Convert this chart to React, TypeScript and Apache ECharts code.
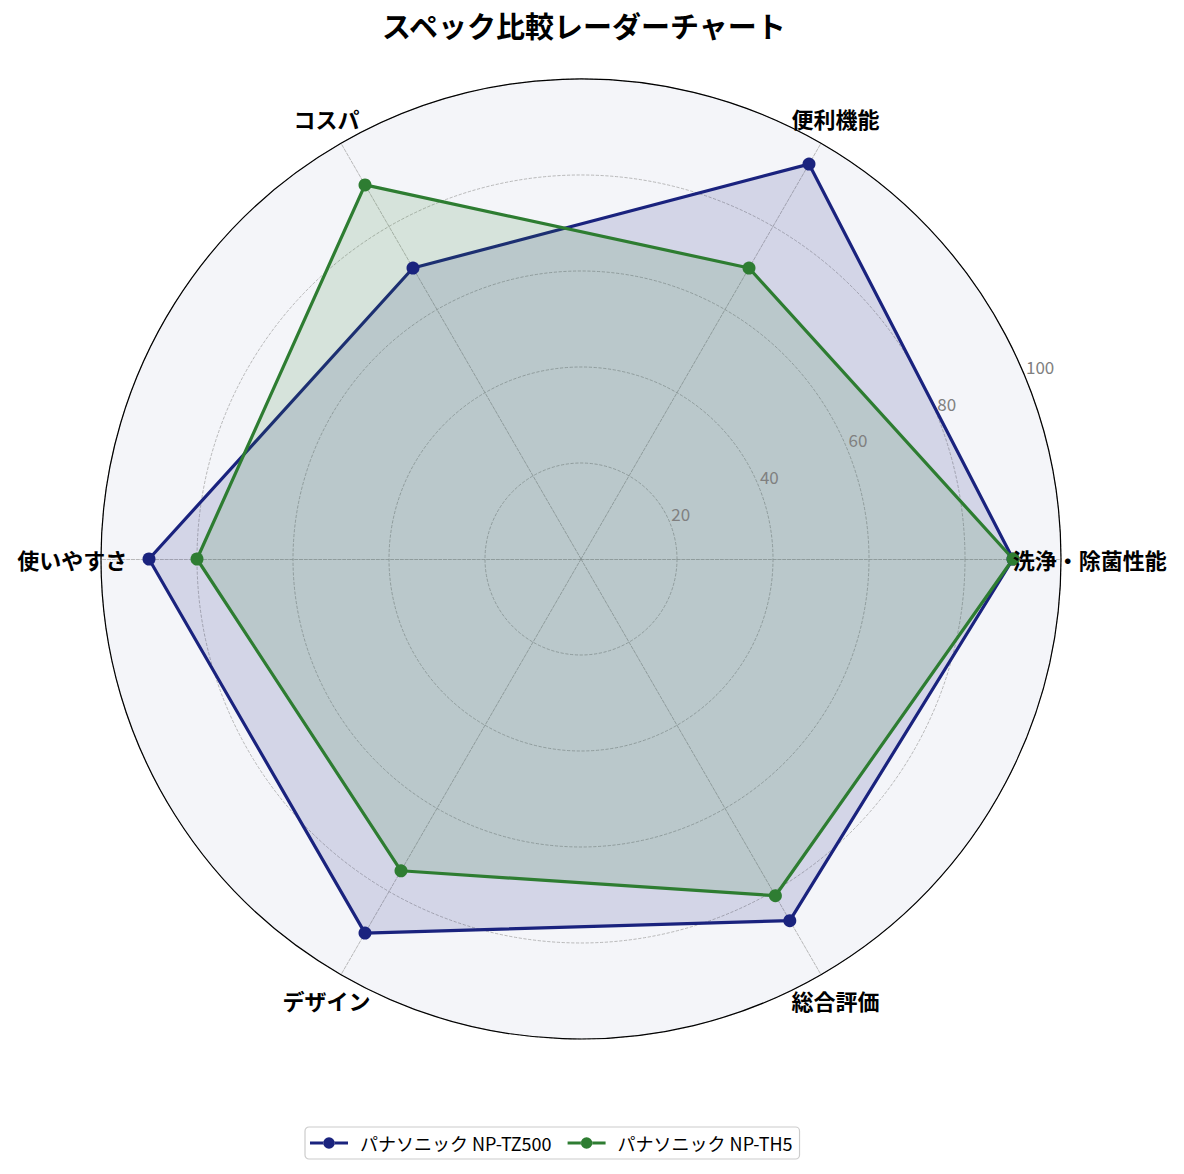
import React, { useRef, useEffect } from "react";
import * as echarts from "echarts";

// --- data ---
const CATEGORIES = ["洗浄・除菌性能", "便利機能", "コスパ", "使いやすさ", "デザイン", "総合評価"];
const SERIES_NAMES = ["パナソニック NP-TZ500", "パナソニック NP-TH5"];
const TZ500 = [90, 95, 70, 90, 90, 87];
const TH5 = [90, 70, 90, 80, 75, 81];
const TICKS = [20, 40, 60, 80, 100];

// --- layout / style ---
const CENTER = [581, 559];
const RADIUS = 480;
const NAME_R = 106; // where the category names sit, in axis units
const TICK_ANGLE = 22.5;
const FONT = '"Noto Sans CJK JP", "Noto Sans", sans-serif';
const BLUE = "#1a237e";
const GREEN = "#2e7d32";
const GRID = "#a8a8a8";

// line with a round marker, plus blank room on the right for the gap before the text
const LEGEND_ICON =
  "path://M0,5.6h13.5v2.8h-13.5z M24.5,5.6h13.5v2.8h-13.5z " +
  "M13.2,7a5.8,5.8 0 1,0 11.6,0a5.8,5.8 0 1,0 -11.6,0z " +
  "M44.9,0h0.1v0.1h-0.1z M44.9,13.9h0.1v0.1h-0.1z M0,0h0.1v0.1h-0.1z";

const hiddenRadius = (polarIndex: number) => ({
  polarIndex,
  min: 0,
  max: 100,
  axisLine: { show: false },
  axisTick: { show: false },
  axisLabel: { show: false },
  splitLine: { show: false },
  splitArea: { show: false },
});

function buildOption() {
  return {
    animation: false,
    backgroundColor: "#ffffff",
    textStyle: { fontFamily: FONT },
    title: {
      text: "スペック比較レーダーチャート",
      left: 377,
      top: 5,
      textStyle: { fontSize: 29, fontWeight: "bold", color: "#000", fontFamily: FONT },
    },
    legend: {
      data: SERIES_NAMES,
      left: 305,
      bottom: 15,
      icon: LEGEND_ICON,
      itemWidth: 45,
      itemHeight: 14,
      itemGap: 16,
      padding: [7, 7, 7, 5],
      borderColor: "#cccccc",
      borderWidth: 1.2,
      borderRadius: 4,
      textStyle: { fontSize: 18, color: "#000", fontFamily: FONT },
    },
    radar: {
      center: CENTER,
      radius: RADIUS,
      startAngle: 0,
      shape: "circle",
      splitNumber: 5,
      indicator: CATEGORIES.map((name) => ({ name, min: 0, max: 100 })),
      axisName: { show: false },
      axisLine: { lineStyle: { color: GRID, type: "dashed", width: 0.8 } },
      splitLine: { lineStyle: { color: GRID, type: "dashed", width: 0.8 } },
      splitArea: { areaStyle: { color: ["#f4f5f9"] } },
    },
    polar: [
      { center: CENTER, radius: RADIUS },
      { center: CENTER, radius: RADIUS },
    ],
    angleAxis: [
      {
        polarIndex: 0,
        type: "category",
        data: CATEGORIES,
        boundaryGap: false,
        startAngle: 0,
        clockwise: false,
        axisLine: { show: false },
        axisTick: { show: false },
        axisLabel: { show: false },
        splitLine: { show: false },
      },
      {
        polarIndex: 1,
        type: "value",
        min: 0,
        max: 360,
        startAngle: TICK_ANGLE,
        clockwise: false,
        z: 3,
        axisLine: { show: true, lineStyle: { color: "#000", width: 1.2 } },
        axisTick: { show: false },
        axisLabel: { show: false },
        splitLine: { show: false },
      },
    ],
    radiusAxis: [hiddenRadius(0), hiddenRadius(1)],
    series: [
      {
        type: "radar",
        symbol: "circle",
        symbolSize: 13,
        z: 4,
        data: [
          {
            name: SERIES_NAMES[0],
            value: TZ500,
            itemStyle: { color: BLUE },
            lineStyle: { color: BLUE, width: 3.2 },
            areaStyle: { color: BLUE, opacity: 0.15 },
          },
          {
            name: SERIES_NAMES[1],
            value: TH5,
            itemStyle: { color: GREEN },
            lineStyle: { color: GREEN, width: 3.2 },
            areaStyle: { color: GREEN, opacity: 0.15 },
          },
        ],
      },
      // category names around the circle
      {
        type: "scatter",
        coordinateSystem: "polar",
        polarIndex: 0,
        clip: false,
        silent: true,
        symbolSize: 1,
        itemStyle: { color: "rgba(0,0,0,0)", opacity: 1 },
        data: CATEGORIES.map((c) => [NAME_R, c]),
        label: {
          show: true,
          position: [0.5, 0.5],
          align: "center",
          verticalAlign: "middle",
          formatter: (p: any) => p.value[1],
          fontSize: 22,
          fontWeight: "bold",
          color: "#000000",
          fontFamily: FONT,
        },
        z: 6,
      },
      // radial tick labels
      {
        type: "scatter",
        coordinateSystem: "polar",
        polarIndex: 1,
        clip: false,
        silent: true,
        symbolSize: 1,
        itemStyle: { color: "rgba(0,0,0,0)", opacity: 1 },
        data: TICKS.map((v) => [v, 0]),
        label: {
          show: true,
          position: [2, 0],
          align: "left",
          verticalAlign: "bottom",
          formatter: (p: any) => String(p.value[0]),
          fontSize: 17,
          color: "#808080",
          fontFamily: FONT,
        },
        z: 6,
      },
    ],
  };
}

export default function App() {
  const chartRef = useRef<HTMLDivElement>(null);

  useEffect(() => {
    document.body.style.margin = "0";
    if (!chartRef.current) return;
    const chart = echarts.init(chartRef.current, undefined, { renderer: "svg" });
    // eslint-disable-next-line @typescript-eslint/no-explicit-any
    chart.setOption(buildOption() as any);
    return () => chart.dispose();
  }, []);

  return <div ref={chartRef} style={{ width: 1184, height: 1174 }} />;
}
